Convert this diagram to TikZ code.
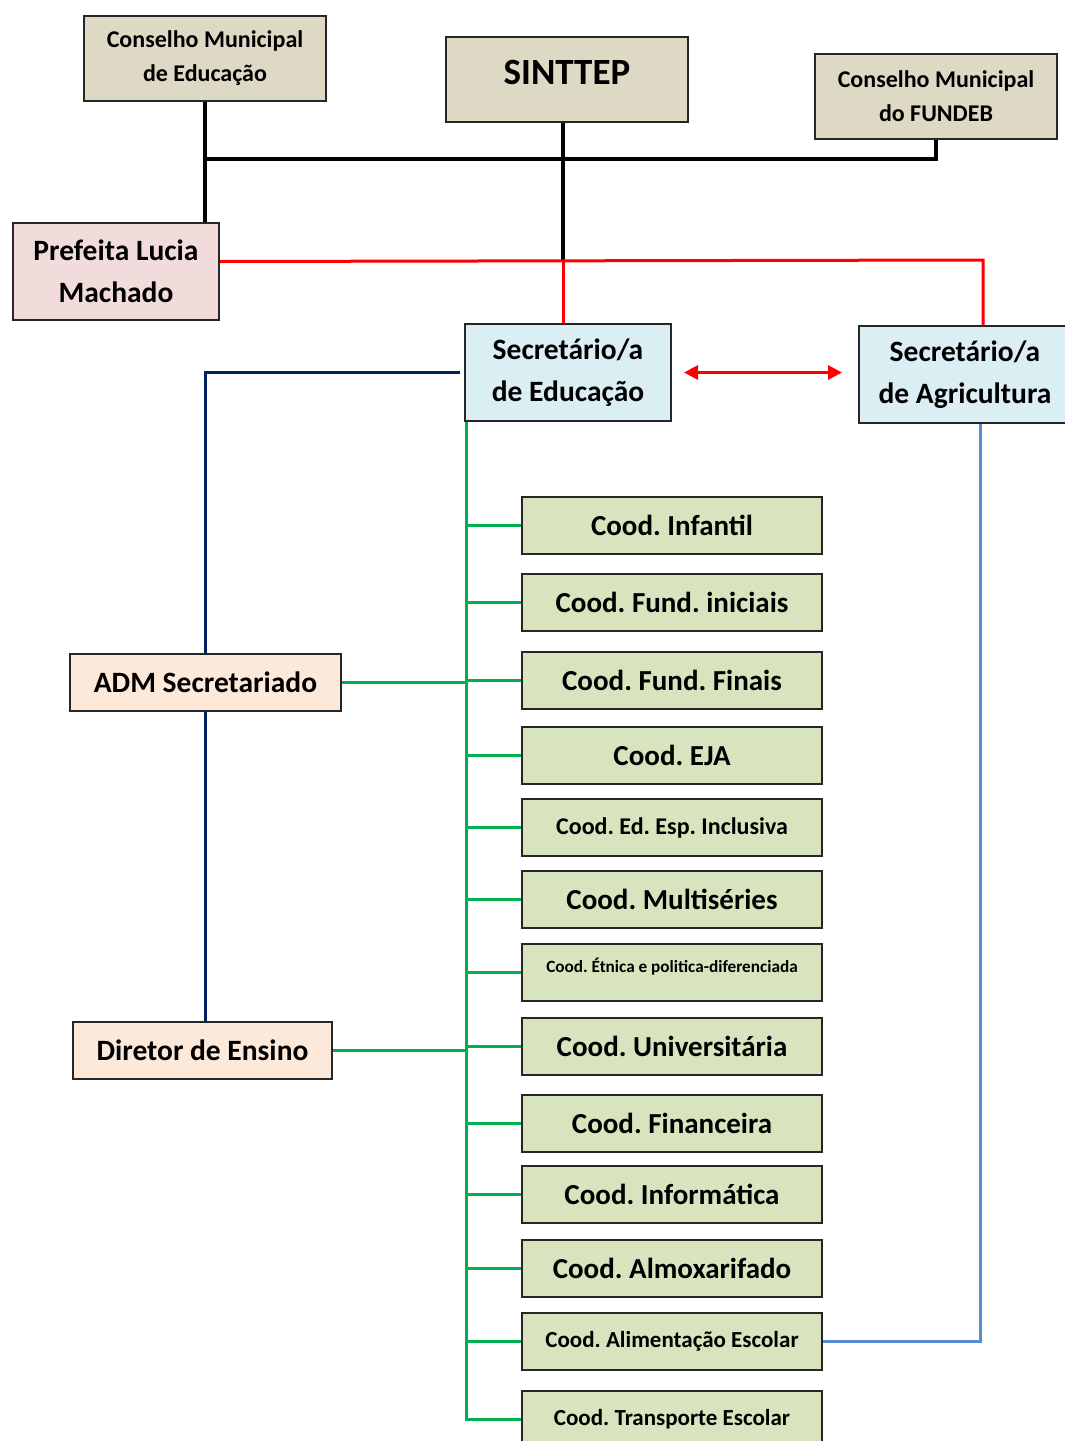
\documentclass[tikz,border=0pt]{standalone}
\usepackage{fontspec}
\setmainfont{Carlito}
\usetikzlibrary{arrows.meta}
\definecolor{tan}{HTML}{DDD9C4}
\definecolor{pinkf}{HTML}{F2DCDB}
\definecolor{lblue}{HTML}{DBEEF4}
\definecolor{peach}{HTML}{FDE9D9}
\definecolor{lgreen}{HTML}{D7E4BD}
\definecolor{gline}{HTML}{00B050}
\definecolor{navyl}{HTML}{002060}
\definecolor{bline}{HTML}{558ED5}
\frenchspacing
\begin{document}
\begin{tikzpicture}[x=1pt,y=-1pt,
  box/.style={draw=black!85, line width=2pt, inner sep=0pt, align=center, font=\bfseries},
  tanbox/.style={box, fill=tan, minimum width=242pt, minimum height=85pt, font=\bfseries\fontsize{24}{34}\selectfont},
  secbox/.style={box, fill=lblue, minimum width=206pt, minimum height=97pt, font=\bfseries\fontsize{29.5}{42}\selectfont},
  cood/.style={box, fill=lgreen, minimum width=300pt, minimum height=57pt, font=\bfseries\fontsize{29}{32}\selectfont},
  peachbox/.style={box, fill=peach, minimum height=57pt, font=\bfseries\fontsize{29.5}{32}\selectfont},
  blk/.style={line width=4pt, black},
  redl/.style={line width=3pt, red},
  grn/.style={line width=3pt, gline},
  nav/.style={line width=3pt, navyl},
  blu/.style={line width=3pt, bline}]
\useasboundingbox (0,0) rectangle (1065,1441);
\fill[white] (0,0) rectangle (1065,1441);
% top boxes
\node[tanbox] (cme) at (205,58.5) {Conselho Municipal\\de Educação};
\node[tanbox, font=\bfseries\fontsize{37}{40}\selectfont, text height=26pt, text depth=16pt] (sint) at (567,79.5) {SINTTEP};
\node[tanbox] (fundeb) at (936,96.5) {Conselho Municipal\\do FUNDEB};
\node[secbox, fill=pinkf] (pref) at (116,271.5) {Prefeita Lucia\\Machado};
\node[secbox] (sedu) at (568,372.5) {Secretário/a\\de Educação};
\node[secbox, minimum width=212pt] (sagr) at (965,374.5) {Secretário/a\\de Agricultura};
\node[peachbox, minimum width=271pt] (adm) at (205.5,682.5) {ADM Secretariado};
\node[peachbox, minimum width=259pt] (dir) at (202.5,1050.5) {Diretor de Ensino};
% coordination boxes
\node[cood] (c1) at (672,525.5) {Cood. Infantil};
\node[cood] (c2) at (672,602.5) {Cood. Fund. iniciais};
\node[cood] (c3) at (672,680.5) {Cood. Fund. Finais};
\node[cood] (c4) at (672,755.5) {Cood. EJA};
\node[cood, font=\bfseries\fontsize{24}{28}\selectfont] (c5) at (672,827.5) {Cood. Ed. Esp. Inclusiva};
\node[cood] (c6) at (672,899.5) {Cood. Multiséries};
\node[cood, font=\bfseries\fontsize{17.2}{20}\selectfont, text depth=14pt] (c7) at (672,972.5) {Cood. Étnica e politica-diferenciada};
\node[cood] (c8) at (672,1046.5) {Cood. Universitária};
\node[cood] (c9) at (672,1123.5) {Cood. Financeira};
\node[cood] (c10) at (672,1194.5) {Cood. Informática};
\node[cood] (c11) at (672,1268.5) {Cood. Almoxarifado};
\node[cood, font=\bfseries\fontsize{23}{26}\selectfont] (c12) at (672,1341.5) {Cood. Alimentação Escolar};
\node[cood, font=\bfseries\fontsize{23}{26}\selectfont] (c13) at (672,1419.5) {Cood. Transporte Escolar};
% coordinates
\coordinate (jb) at (0,159);
\coordinate (sj) at (563,262);
\coordinate (rc) at (983,260);
\coordinate (trk) at (466,0);
\coordinate (bx) at (980,0);
% black connectors
\draw[blk] (cme.south) -- (cme.south |- pref.north);
\draw[blk] (cme.south |- jb) -- (fundeb.south |- jb) -- (fundeb.south);
\draw[blk] (sint.south -| sj) -- (sj);
% red connectors
\draw[redl] (sj) -- (sj |- sedu.north);
\draw[redl] ([yshift=10pt]pref.east) -- (rc) -- (rc |- sagr.north);
\draw[redl, {Triangle[length=14pt,width=14pt]}-{Triangle[length=14pt,width=14pt]}] ([xshift=12pt]sedu.east) -- ([xshift=-16pt]sagr.west |- sedu.east);
% navy
\draw[nav] ([xshift=-4pt]sedu.west) -| (adm.north);
\draw[nav] (adm.south) -- (adm.south |- dir.north);
% green trunk
\draw[grn] (trk |- sedu.south) |- (c13.west);
\foreach \c in {c1,c2,c3,c4,c5,c6,c7,c8,c9,c10,c11,c12}{
  \draw[grn] (\c.west -| trk) -- (\c.west);
}
\draw[grn] (adm.east) -- (adm.east -| trk);
\draw[grn] (dir.east) -- (dir.east -| trk);
% blue
\draw[blu] (sagr.south -| bx) -- (bx |- c12.east) -- (c12.east);
\end{tikzpicture}
\end{document}
